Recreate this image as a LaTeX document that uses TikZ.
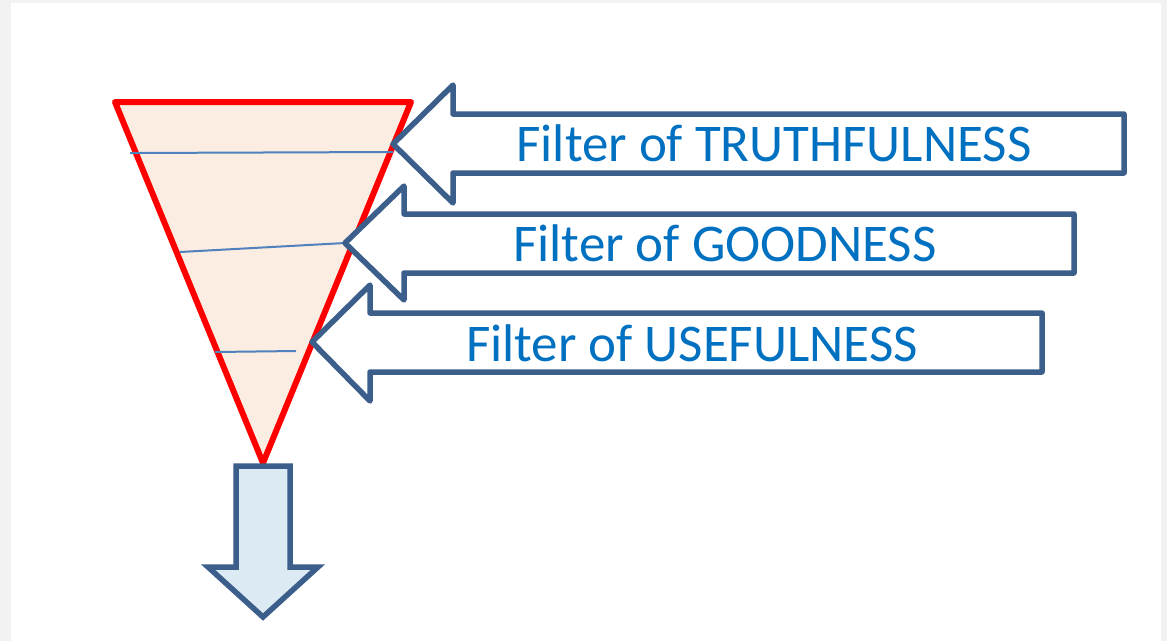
\documentclass[tikz,border=0pt]{standalone}
\usepackage{fontspec}
\setmainfont{Carlito}
\definecolor{outerbg}{HTML}{F2F2F2}
\definecolor{txtblue}{HTML}{0070C0}
\definecolor{arrowline}{HTML}{3B5F8A}
\definecolor{funnelfill}{HTML}{FCEDE2}
\definecolor{downfill}{HTML}{DBEAF3}
\definecolor{levelline}{HTML}{4F81BD}
\tikzset{
  filterarrow/.style={draw=arrowline, line width=5.5pt, fill=white, line join=round},
  funnel/.style={draw=red, line width=6pt, fill=funnelfill, line join=round},
  levelstroke/.style={draw=levelline, line width=2pt},
  filterlabel/.style={text=txtblue, anchor=base, inner sep=0pt, font=\fontsize{53}{56}\selectfont},
}
\begin{document}
\begin{tikzpicture}[x=1pt,y=-1pt]
\fill[outerbg] (0,0) rectangle (1167,641);
\fill[white] (11,3) rectangle (1161,641);
\useasboundingbox (0,0) rectangle (1167,641);
% funnel
\draw[funnel] (115,102) -- (411,102) -- (263,463) -- cycle;
% level lines
\draw[levelstroke] (130,153) -- (393,152);
\draw[levelstroke] (180,252) -- (345,243);
\draw[levelstroke] (215,352) -- (296,351);
% arrows
\draw[filterarrow] (393,144) -- (453,85) -- (453,114) -- (1124,114) -- (1124,173) -- (453,173) -- (453,203) -- cycle;
\draw[filterarrow] (345,243) -- (404,186) -- (404,214) -- (1074,214) -- (1074,273) -- (404,273) -- (404,300) -- cycle;
\draw[filterarrow] (312,342) -- (370,285) -- (370,313) -- (1042,313) -- (1042,372) -- (370,372) -- (370,401) -- cycle;
% down arrow
\draw[filterarrow, fill=downfill, line join=miter] (236,466) -- (290,466) -- (290,567) -- (318,567) -- (263,617) -- (208,567) -- (236,567) -- cycle;
% labels
\node[filterlabel] (truth) at (774,161) {Filter of TRUTHFULNESS};
\node[filterlabel] (good) at (725,261) {Filter of GOODNESS};
\node[filterlabel] (useful) at (692,361) {Filter of USEFULNESS};
\end{tikzpicture}
\end{document}
